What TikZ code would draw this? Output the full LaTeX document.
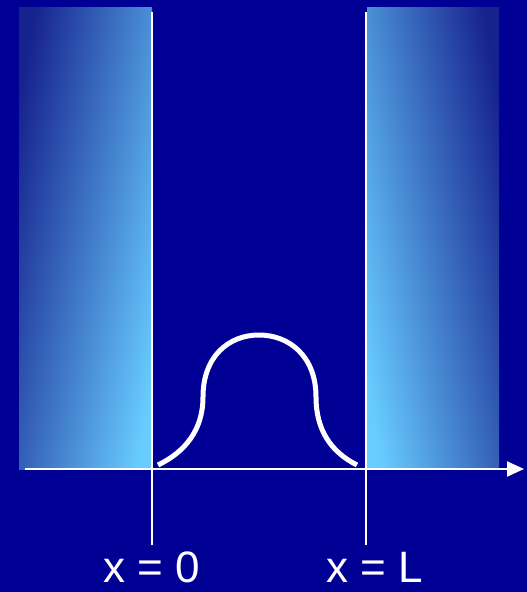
\documentclass[tikz,border=0pt]{standalone}
\usepackage{fontspec}
\setmainfont{Liberation Sans}
\usetikzlibrary{arrows.meta}
\definecolor{slideblue}{RGB}{0,0,148}
\definecolor{walldark}{RGB}{22,34,142}
\definecolor{walllight}{RGB}{104,204,255}
\tikzset{
  edge/.style={white,line width=1.6bp},
  axisline/.style={white,line width=2bp,-{Triangle[length=17bp,width=15bp]}},
  wave/.style={white,line width=5bp,line cap=butt},
  lbl/.style={white,font=\fontsize{44bp}{52bp}\selectfont,anchor=base,inner sep=0pt}
}
\begin{document}
\begin{tikzpicture}[x=1bp,y=-1bp]
  \fill[slideblue] (0,0) rectangle (527,592);
  \useasboundingbox (0,0) rectangle (527,592);
  \shade[left color=walldark,right color=walllight,shading angle=80] (19,8) rectangle (152,469);
  \shade[left color=walllight,right color=walldark,shading angle=100] (367,8) rectangle (499,469);
  \coordinate (x0top) at (152,12);  \coordinate (x0bot) at (152,545);
  \coordinate (xLtop) at (366,12);  \coordinate (xLbot) at (366,545);
  \coordinate (ax0) at (25,469);    \coordinate (ax1) at (524,469);
  \draw[edge,line width=1.2bp] (x0top) -- (x0bot);
  \draw[edge,line width=2bp] (xLtop) -- (xLbot);
  \draw[axisline] (ax0) -- (ax1);
  \coordinate (w0) at (158,465); \coordinate (wpeak) at (259,335); \coordinate (w1) at (357,465);
  \draw[wave] (w0) .. controls (185,452) and (203,430) .. (203,397)
    .. controls (203,356) and (229,335) .. (wpeak)
    .. controls (289,335) and (316,356) .. (316,397)
    .. controls (316,430) and (331,452) .. (w1);
  \node[lbl] (lbl0) at (152,582) {x = 0};
  \node[lbl] (lblL) at (375,582) {x = L};
\end{tikzpicture}
\end{document}
